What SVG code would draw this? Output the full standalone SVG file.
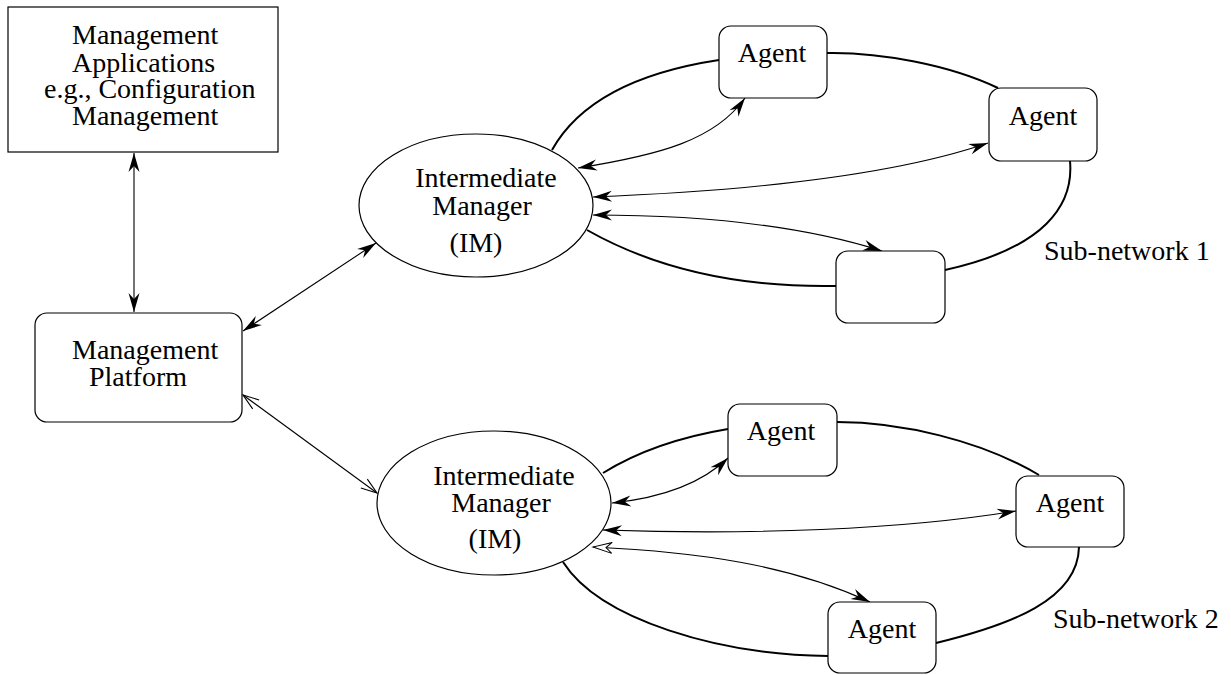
<svg xmlns="http://www.w3.org/2000/svg" width="1231" height="675" viewBox="0 0 1231 675">
<style>
text{font-family:"Liberation Serif","Times New Roman",serif;font-size:28px;fill:#000}
.box{fill:#fff;stroke:#000;stroke-width:1.2}
.ring{fill:none;stroke:#000;stroke-width:2}
.ln{fill:none;stroke:#000;stroke-width:1.1}
.fa{marker-start:url(#st);marker-end:url(#st)}
</style>
<defs>
<marker id="st" viewBox="-22 -8 24 16" refX="0" refY="0" markerWidth="24" markerHeight="16" markerUnits="userSpaceOnUse" orient="auto-start-reverse" overflow="visible">
<path d="M0,0 L-19,-5.5 L-13,0 L-19,5.5 z" fill="#000"/>
</marker>
<marker id="op" viewBox="-22 -8 24 16" refX="0" refY="0" markerWidth="24" markerHeight="16" markerUnits="userSpaceOnUse" orient="auto-start-reverse" overflow="visible">
<path d="M-16,-5.5 L0,0 L-16,5.5" fill="none" stroke="#000" stroke-width="1.1"/>
</marker>
<marker id="ho" viewBox="-22 -8 24 16" refX="0" refY="0" markerWidth="24" markerHeight="16" markerUnits="userSpaceOnUse" orient="auto-start-reverse" overflow="visible">
<path d="M0,0 L-19,-5.5 L-13,0 L-19,5.5 z" fill="#fff" stroke="#000" stroke-width="1"/>
</marker>
</defs>

<g id="rings">
<path class="ring" d="M552 150 C580 100 640 72 719 60"/>
<path class="ring" d="M827 53 C880 52 950 65 998 88"/>
<path class="ring" d="M1070 161 C1074 205 1045 248 945 270"/>
<path class="ring" d="M587 230 C640 260 720 288 836 286"/>
<path class="ring" d="M603 473 C640 450 680 437 728 429"/>
<path class="ring" d="M837 422 C900 422 980 440 1039 475"/>
<path class="ring" d="M1079 547 C1078 600 1010 625 936 643"/>
<path class="ring" d="M828 656 C720 655 600 620 563 562"/>
</g>

<g id="connectors">
<line class="ln fa" x1="134" y1="153" x2="134" y2="312"/>
<line class="ln fa" x1="243" y1="331" x2="376" y2="243"/>
<line class="ln" x1="243" y1="395" x2="377" y2="493" marker-start="url(#op)" marker-end="url(#op)"/>
<path class="ln fa" d="M578 168 C660 155 715 140 745 98"/>
<path class="ln fa" d="M593 197 C720 192 880 180 988 143"/>
<path class="ln fa" d="M593 215 C700 215 800 225 882 251"/>
<path class="ln fa" d="M612 503 C660 498 700 485 728 458"/>
<path class="ln fa" d="M603 530 C750 535 900 530 1016 511"/>
<path class="ln" d="M593 547 C700 552 790 565 870 602" marker-start="url(#ho)" marker-end="url(#st)"/>
</g>

<g id="apps">
<rect class="box" x="8" y="7" width="270" height="145"/>
<text x="72" y="44">Management</text>
<text x="72" y="72">Applications</text>
<text x="44" y="98">e.g., Configuration</text>
<text x="72" y="125">Management</text>
</g>

<g id="platform">
<rect class="box" x="35" y="313" width="207" height="109" rx="12"/>
<text x="72" y="359">Management</text>
<text x="89" y="386">Platform</text>
</g>

<g id="im1">
<ellipse class="box" cx="476" cy="205.5" rx="117" ry="71.5"/>
<text x="486" y="187" text-anchor="middle">Intermediate</text>
<text x="482" y="215" text-anchor="middle">Manager</text>
<text x="476" y="252" text-anchor="middle">(IM)</text>
</g>

<g id="agent1a">
<rect class="box" x="719" y="26" width="108" height="72" rx="12"/>
<text x="772" y="62" text-anchor="middle">Agent</text>
</g>
<g id="agent1b">
<rect class="box" x="989" y="88" width="108" height="73" rx="12"/>
<text x="1043" y="125" text-anchor="middle">Agent</text>
</g>
<g id="agent1c">
<rect class="box" x="836" y="251" width="109" height="72" rx="12"/>
</g>
<text x="1044" y="260">Sub-network 1</text>

<g id="im2">
<ellipse class="box" cx="494" cy="503" rx="117" ry="72"/>
<text x="504" y="485" text-anchor="middle">Intermediate</text>
<text x="501" y="512" text-anchor="middle">Manager</text>
<text x="495" y="548" text-anchor="middle">(IM)</text>
</g>

<g id="agent2a">
<rect class="box" x="728" y="404" width="109" height="72" rx="12"/>
<text x="781" y="440" text-anchor="middle">Agent</text>
</g>
<g id="agent2b">
<rect class="box" x="1016" y="476" width="108" height="71" rx="12"/>
<text x="1070" y="512" text-anchor="middle">Agent</text>
</g>
<g id="agent2c">
<rect class="box" x="828" y="602" width="108" height="71" rx="12"/>
<text x="882" y="638" text-anchor="middle">Agent</text>
</g>
<text x="1053" y="628">Sub-network 2</text>
</svg>
